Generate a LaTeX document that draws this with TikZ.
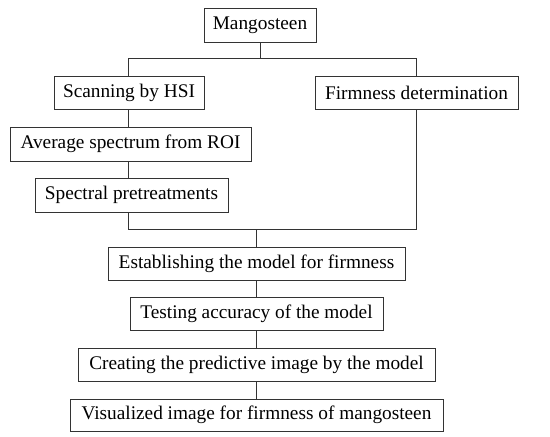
\documentclass[tikz,border=0pt]{standalone}
\usepackage{fontspec}
\setmainfont{Liberation Serif}
\begin{document}
\begin{tikzpicture}[x=1pt,y=-1pt,
    stepbox/.style={draw=black!80, line width=0.9pt, inner sep=0pt, font=\fontsize{19.3}{22}\selectfont},
    link/.style={draw=black!80, line width=0.9pt}]

% Fix the page size
\useasboundingbox (0,0) rectangle (550,437);

% Top of the chart
\node[stepbox, minimum width=112pt, minimum height=34pt] (mango) at (260,25) {Mangosteen};

% Left branch: imaging
\node[stepbox, minimum width=150pt, minimum height=33pt] (scan) at (129,92.5) {Scanning by HSI};
\node[stepbox, minimum width=241pt, minimum height=34pt] (avg) at (130.5,144) {Average spectrum from ROI};
\node[stepbox, minimum width=193pt, minimum height=34pt] (spec) at (131.5,195) {Spectral pretreatments};

% Right branch: reference measurement
\node[stepbox, minimum width=203pt, minimum height=33pt] (firm) at (416.5,92.5) {Firmness determination};

% Common part
\node[stepbox, minimum width=297pt, minimum height=33pt] (est) at (256.5,263.5) {Establishing the model for firmness};
\node[stepbox, minimum width=253pt, minimum height=33pt] (test) at (256.5,313.5) {Testing accuracy of the model};
\node[stepbox, minimum width=357pt, minimum height=33pt] (create) at (256.5,364.5) {Creating the predictive image by the model};
\node[stepbox, minimum width=373pt, minimum height=32pt] (vis) at (256.5,415) {Visualized image for firmness of mangosteen};

% Split and join points
\coordinate (split) at (260,58);
\coordinate (join) at (256.5,229);

% Connectors
\draw[link] (mango.south) -- (split);
\draw[link] (128,58) -- (416,58);
\draw[link] (128,58) -- (128,76);
\draw[link] (416,58) -- (416,76);
\draw[link] (128,109) -- (128,127);
\draw[link] (128,161) -- (128,178);
\draw[link] (128,212) |- (join);
\draw[link] (416,109) |- (join);
\draw[link] (join) -- (est.north);
\draw[link] (est.south) -- (test.north);
\draw[link] (test.south) -- (create.north);
\draw[link] (create.south) -- (vis.north);

\end{tikzpicture}
\end{document}
